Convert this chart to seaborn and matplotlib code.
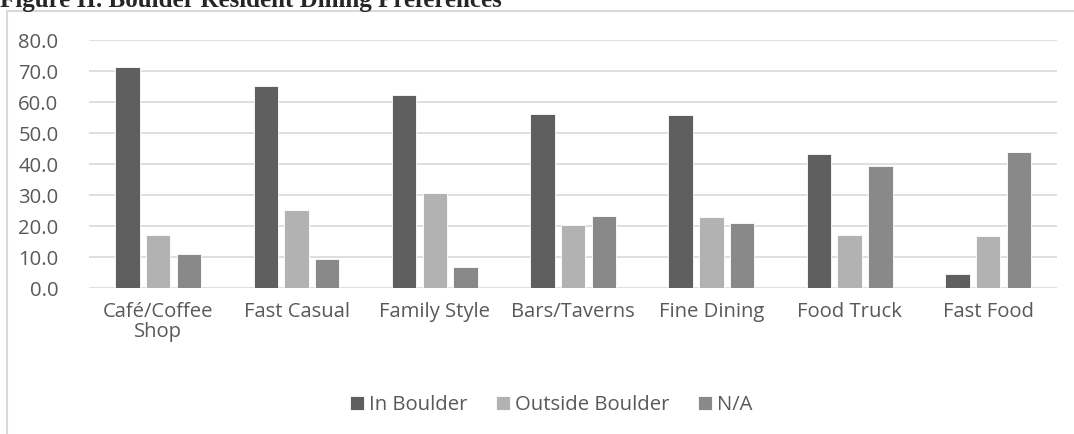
import pandas as pd
import matplotlib
matplotlib.use("Agg")
import matplotlib.pyplot as plt
import seaborn as sns
from matplotlib.patches import Rectangle

# Chart values (percent of respondents)
categories = ["Café/Coffee\nShop", "Fast Casual", "Family Style", "Bars/Taverns",
              "Fine Dining", "Food Truck", "Fast Food"]
in_boulder = [71.4, 65.2, 62.2, 56.1, 55.8, 43.3, 4.5]
outside_boulder = [17.2, 25.2, 30.6, 20.2, 22.8, 17.1, 16.9]
not_applicable = [11.0, 9.4, 6.7, 23.1, 21.0, 39.2, 44.0]
series_names = ["In Boulder", "Outside Boulder", "N/A"]
colors = ["#5f5f5f", "#b2b2b2", "#898989"]

# long-format table for seaborn
df = pd.DataFrame({
    "Category": categories * 3,
    "Series": [series_names[0]] * 7 + [series_names[1]] * 7 + [series_names[2]] * 7,
    "Value": in_boulder + outside_boulder + not_applicable,
})

sns.set_style("white")
plt.rcParams["font.family"] = ["Open Sans", "DejaVu Sans"]
text_color = "#595959"
fs = 14.6

fig = plt.figure(figsize=(10.74, 4.34), dpi=100)
ax = fig.add_axes([0.0829, 0.3364, 0.9015, 0.5714])

sns.barplot(data=df, x="Category", y="Value", hue="Series", hue_order=series_names,
            palette=colors, width=0.666, gap=0.2, edgecolor="white", linewidth=0.6,
            saturation=1, errorbar=None, ax=ax, zorder=3)

ax.set_ylim(0, 80)
ax.set_xlim(-0.5, 6.5)
ax.set_yticks(range(0, 81, 10))
ax.set_yticklabels([f"{v:.1f}" for v in range(0, 81, 10)])
ax.yaxis.grid(True, color="#d9d9d9", linewidth=1.2, zorder=0)
ax.set_axisbelow(True)
for side in ["top", "right", "left", "bottom"]:
    ax.spines[side].set_visible(False)
ax.tick_params(axis="y", length=0, pad=22, labelsize=fs, labelcolor=text_color)
ax.tick_params(axis="x", length=0, pad=10, labelsize=fs, labelcolor=text_color)
for lbl in ax.get_xticklabels():
    lbl.set_linespacing(1.0)
ax.set_xlabel("")
ax.set_ylabel("")

ax.legend(loc="center", bbox_to_anchor=(551 / 1074, 1 - 405 / 434),
          bbox_transform=fig.transFigure, ncol=3, frameon=False,
          fontsize=fs, labelcolor=text_color, handlelength=0.7, handleheight=0.7,
          handletextpad=0.25, columnspacing=1.4)

# chart frame and title (top clipped as in the source)
fig.patches.append(Rectangle((7 / 1074, -0.1), 1.2, 1.1 - 11 / 434, transform=fig.transFigure,
                             fill=False, edgecolor="#d9d9d9", linewidth=1.5))
fig.text(0, 1 - 7 / 434, "Figure II. Boulder Resident Dining Preferences",
         fontsize=18, fontweight="bold", family="Liberation Serif", va="baseline")

fig.savefig("out.png", dpi=100)
